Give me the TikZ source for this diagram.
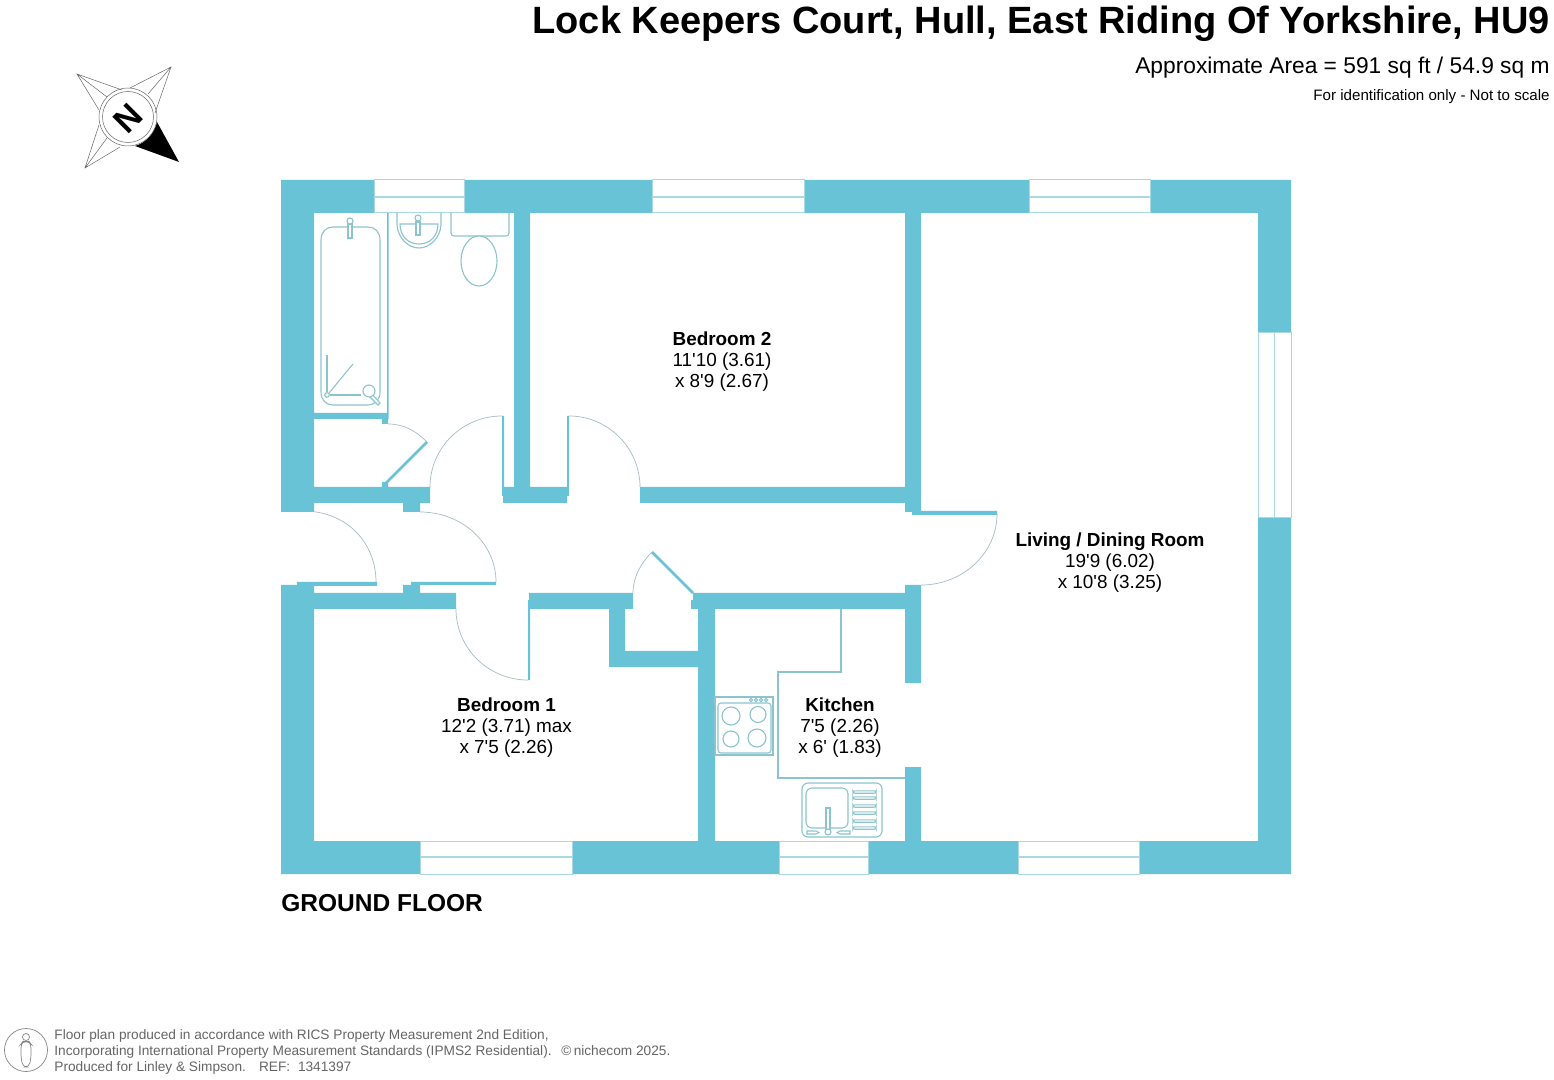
\documentclass[tikz,border=0pt]{standalone}
\usepackage{fontspec}
\setmainfont{Liberation Sans}
\definecolor{wallc}{HTML}{68C3D7}
\definecolor{fixc}{HTML}{8CC4CE}
\definecolor{winc}{HTML}{A9DAE3}
\definecolor{arcc}{HTML}{A5BDC2}
\definecolor{footc}{HTML}{666666}
\newcommand{\ap}{\textquotesingle}
\tikzset{
  wall/.style={fill=wallc,draw=none},
  windowpane/.style={fill=white,draw=winc,line width=0.5pt},
  windowmid/.style={draw=winc,line width=0.8pt},
  swing/.style={draw=arcc,line width=0.35pt},
  fixture/.style={draw=fixc,line width=0.55pt},
  compassline/.style={draw=black!60,line width=0.25pt},
  room/.style={align=center,inner sep=0pt,font=\fontsize{9.45}{10.45}\selectfont},
  foot/.style={anchor=base west,inner sep=0pt,text=footc,font=\fontsize{6.84}{8}\selectfont},
  headtext/.style={anchor=base east,inner sep=0pt}
}
\begin{document}
\begin{tikzpicture}[x=0.5pt,y=-0.5pt]
\useasboundingbox (0,0) rectangle (1554,1080);
\fill[white] (0,0) rectangle (1554,1080);

% door swings
\draw[swing] (303,511) .. controls (347,511) and (376,543) .. (376,582);
\draw[swing] (420,512) .. controls (462,512) and (496,543) .. (496,582);
\draw[swing] (502,416) .. controls (462,416) and (430,448) .. (430,487);
\draw[swing] (569,416) .. controls (608,416) and (640,448) .. (640,487);
\draw[swing] (388,424) .. controls (404,424) and (416,431) .. (427,442);
\draw[swing] (456,609) .. controls (456,648) and (488,680) .. (528,680);
\draw[swing] (633,593) .. controls (633,577) and (641,563) .. (652,552);
\draw[swing] (997,514) .. controls (997,553) and (963,585) .. (921,585);

% walls
\fill[wall] (281,180) rectangle (1291,213)   % top
  (281,841) rectangle (1291,874)             % bottom
  (281,180) rectangle (314,512)              % left upper
  (281,585) rectangle (314,874)              % left lower
  (297,582) rectangle (314,586)
  (1258,180) rectangle (1291,874)            % right
  (314,413) rectangle (388,419)              % below bath
  (387,213) rectangle (388.5,419)
  (382,419) rectangle (388,424)
  (382,482) rectangle (388,487)
  (314,487) rectangle (430,503)
  (403,503) rectangle (420,512)
  (514,213) rectangle (530,487)
  (502,487) rectangle (569,496)
  (503,496) rectangle (567,503)
  (502,416) rectangle (504,487)
  (567,416) rectangle (569,487)
  (640,487) rectangle (921,503)
  (905,213) rectangle (921,512)
  (912,511) rectangle (997,515)
  (297,582) rectangle (377,586)
  (411,582) rectangle (496,585)
  (403,585) rectangle (420,593)
  (314,593) rectangle (456,609)
  (529,593) rectangle (633,609)
  (528,600) rectangle (530,680)
  (609,609) rectangle (625,667)
  (609,651) rectangle (715,667)
  (693,593) rectangle (905,609)
  (691,600) rectangle (715,609)
  (698,593) rectangle (715,841)
  (905,585) rectangle (921,683)
  (905,767) rectangle (921,841);
% door leaves at an angle
\draw[wallc,line width=1.3pt] (385,484) -- (427,442);
\draw[wallc,line width=1.3pt] (693,593) -- (652,552);

% windows
\foreach \xa/\xb in {374/464,652/804,1029/1150}{
  \draw[windowpane] (\xa,180) rectangle (\xb,213);
  \draw[windowmid] (\xa,197) -- (\xb,197);
}
\foreach \xa/\xb in {420/572,779/868,1018/1139}{
  \draw[windowpane] (\xa,841) rectangle (\xb,874);
  \draw[windowmid] (\xa,857) -- (\xb,857);
}
\draw[windowpane] (1258,333) rectangle (1291,518);
\draw[windowmid] (1274.5,333) -- (1274.5,518);

% bath
\draw[fixture] (321,240) .. controls (321,232) and (326,227) .. (333,227) -- (368,227)
  .. controls (375,227) and (380,232) .. (380,240) -- (380,392)
  .. controls (380,400) and (375,405) .. (368,405) -- (333,405)
  .. controls (326,405) and (321,400) .. (321,392) -- cycle;
\draw[fixture,fill=white] (348,224) rectangle (352,238);
\draw[fixture,fill=white] (350,221) circle (3);
\draw[fixture] (327,355) -- (327,392);
\draw[fixture] (329,393) -- (353,364);
\draw[fixture] (330,395) -- (361,395);
\draw[fixture,fill=white] (327,395) circle (2.3);
\draw[fixture,fill=white] (372,394) -- (380,403) -- (378,405) -- (369,396) -- cycle;
\draw[fixture,fill=white] (369,391) circle (6);

% basin
\draw[fixture] (397,213) -- (397,225) .. controls (398,238) and (408,248) .. (419,248)
  .. controls (430,248) and (440,238) .. (441,225) -- (441,213);
\draw[fixture] (400,224) -- (438,224) .. controls (438,236) and (430,244) .. (419,244)
  .. controls (408,244) and (400,236) .. (400,224) -- cycle;
\draw[fixture,fill=white] (416,222) rectangle (420,235);
\draw[fixture,fill=white] (418,218) circle (3);

% toilet
\draw[fixture,rounded corners=1.5pt] (451,213) -- (451,236) -- (509,236) -- (509,213);
\draw[fixture,fill=white] (479,261) ellipse (18 and 25);

% worktop
\draw[fixture] (841,609) -- (841,672) -- (778,672) -- (778,778) -- (905,778);

% hob
\draw[fixture] (715,697) rectangle (773,755);
\draw[fixture,rounded corners=1.5pt] (718,703) rectangle (771,753);
\draw[fixture] (731,716) circle (9) (758,714.5) circle (8) (731,739) circle (8) (757,738) circle (9);
\foreach \kx in {751,756,761,766}{\draw[fixture] (\kx,700) circle (1.6);}

% sink
\draw[fixture,rounded corners=3pt] (802,783) rectangle (882,837);
\draw[fixture,rounded corners=3pt] (806,788) rectangle (848,828);
\foreach \dy in {792,798,806,813,821,828}{
  \draw[fixture,rounded corners=1pt] (853,\dy-1.2) rectangle (876,\dy+1.2);
}
\draw[fixture,fill=white] (826,808) rectangle (830,830);
\draw[fixture,fill=white] (828,832) circle (3);
\draw[fixture] (807,831) -- (816,831) -- (819,832.5) -- (816,834) -- (807,834) -- cycle;
\draw[fixture] (850,831) -- (840,831) -- (837,832.5) -- (840,834) -- (850,834) -- cycle;

% compass
\draw[compassline] (122,90) -- (77,74) -- (99,110) (77,74) -- (107,97);
\draw[compassline] (130,88) -- (171,67) -- (155,113) (171,67) -- (148,94);
\draw[compassline] (99,125) -- (85,168) -- (120,147) (85,168) -- (107,138);
\draw[compassline] (128,117) circle (29) (128,117) circle (25.5);
\fill[black] (179,162) -- (157,122) .. controls (155,133) and (146,143) .. (135,146) -- cycle;
\node[inner sep=0pt,rotate=-135,font=\fontsize{17}{17}\bfseries\selectfont] (northmark) at (128,118.5) {N};

% person icon
\draw[draw=footc!80,line width=0.35pt] (26,1050) circle (21.5);
\draw[draw=footc!80,line width=0.35pt] (26,1037) circle (3.5);
\draw[draw=footc!80,line width=0.35pt,rounded corners=2pt] (21,1044) -- (23,1041.5) -- (29,1041.5) -- (31,1044) -- (31,1058) -- (29,1067) -- (23,1067) -- (21,1058) -- cycle;

% header
\node[headtext,font=\fontsize{19}{20}\bfseries\selectfont] (title) at (1550,34) {Lock Keepers Court, Hull, East Riding Of Yorkshire, HU9};
\node[headtext,font=\fontsize{11.38}{13}\selectfont] (area) at (1550,74) {Approximate Area = 591 sq ft / 54.9 sq m};
\node[headtext,font=\fontsize{7.56}{9}\selectfont] (idonly) at (1550,101) {For identification only - Not to scale};

% rooms
\node[room] (bed2) at (722,362) {\textbf{Bedroom 2}\\11\ap10 (3.61)\\x 8\ap9 (2.67)};
\node[room] (living) at (1110,563) {\textbf{Living / Dining Room}\\19\ap9 (6.02)\\x 10\ap8 (3.25)};
\node[room] (bed1) at (506.5,728) {\textbf{Bedroom 1}\\12\ap2 (3.71) max\\x 7\ap5 (2.26)};
\node[room] (kitchen) at (840,728) {\textbf{Kitchen}\\7\ap5 (2.26)\\x 6\ap{} (1.83)};

\node[anchor=base west,inner sep=0pt,font=\fontsize{12.25}{14}\bfseries\selectfont] (floor) at (281,911) {GROUND FLOOR};

% footer
\node[foot] (f1) at (54,1039) {Floor plan produced in accordance with RICS Property Measurement 2nd Edition,};
\node[foot] (f2) at (54,1055) {Incorporating International Property Measurement Standards (IPMS2 Residential).};
\node[foot] (f3) at (54,1071.5) {Produced for Linley \& Simpson.\hspace{4pt} REF:\hspace{2pt} 1341397};
\node[foot] (f4) at (561,1055) {©\,nichecom 2025.};
\end{tikzpicture}
\end{document}
